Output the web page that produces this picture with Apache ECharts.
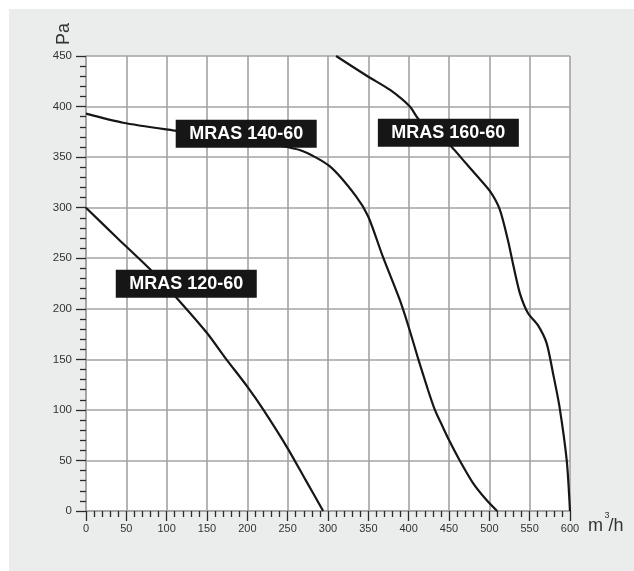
<!DOCTYPE html>
<html>
<head>
<meta charset="utf-8">
<script src="https://cdn.jsdelivr.net/npm/echarts@6/dist/echarts.min.js"></script>
<style>
html,body{margin:0;padding:0;background:#fff;}
#panel{position:absolute;left:9px;top:9px;width:625px;height:562px;background:#ebecec;}
#chart{position:absolute;left:0;top:0;width:634px;height:571px;}
</style>
</head>
<body>
<div id="panel"></div>
<div id="chart"></div>
<script>
// MRAS 120-60
var flow120 = [0, 40, 80, 116.5, 150, 174, 200, 220, 250, 272, 294];
var pres120 = [300, 269, 238.5, 207, 176, 150, 123, 100, 62, 31, 0];
// MRAS 140-60
var flow140 = [0, 46, 108, 160, 210, 265, 302, 335, 350, 368, 389, 400, 412, 424, 432.5, 441.5, 450, 463.3, 480, 496.5, 509.7];
var pres140 = [393, 384, 376.5, 371, 365, 357, 341, 311, 291, 251.5, 208.7, 182, 150, 119.7, 100, 84.5, 70.2, 50, 27.4, 10.9, 0];
// MRAS 160-60
var flow160 = [310, 350, 377, 401.5, 412, 432, 453, 467.6, 484, 501, 513, 523, 530, 538, 548, 560, 571, 579, 587, 596, 600];
var pres160 = [450, 429.5, 416.4, 400, 387.7, 374, 360.3, 347, 332, 316, 298, 268, 242, 215, 195.5, 184, 166, 136, 103, 49.5, 0];
// series labels: name, anchor flow, anchor pressure
var labelNames = ['MRAS 120-60', 'MRAS 140-60', 'MRAS 160-60'];
var labelFlow = [124.3, 198.6, 449.2];
var labelPres = [224.7, 373, 374];
// axes
var xMin = 0, xMax = 600, xStep = 50;
var yMin = 0, yMax = 450, yStep = 50;
var yName = 'Pa';

function pairs(xs, ys){ return xs.map(function(x,i){ return [x, ys[i]]; }); }

var FONT = '"Liberation Sans", Arial, sans-serif';
var chart = echarts.init(document.getElementById('chart'), null, {renderer:'canvas'});

var lineStyle = {color:'#161616', width:2.2};
function curve(name, xs, ys){
  return {type:'line', name:name, data:pairs(xs, ys), smooth:0.25, symbol:'none',
    lineStyle:lineStyle, z:2, silent:true, clip:true};
}

var axisCommon = {
  axisLine:{show:true, lineStyle:{color:'#a0a0a0', width:1.5}},
  axisTick:{show:true, inside:false, length:10, lineStyle:{color:'#2a2a2a', width:1.3}},
  minorTick:{show:true, splitNumber:5, length:6, lineStyle:{color:'#2a2a2a', width:1.3}},
  splitLine:{show:true, lineStyle:{color:'#a3a3a3', width:1.6}}
};

chart.setOption({
  animation:false,
  backgroundColor:'transparent',
  grid:{left:86, right:64, top:56, bottom:60, show:true, backgroundColor:'#fff', borderWidth:0},
  xAxis:Object.assign({type:'value', min:xMin, max:xMax, interval:xStep,
    axisLabel:{color:'#333', fontSize:11, fontFamily:FONT, margin:12}}, axisCommon),
  yAxis:Object.assign({type:'value', min:yMin, max:yMax, interval:yStep,
    axisLabel:{color:'#333', fontSize:11.5, fontFamily:FONT, margin:14}}, axisCommon),
  graphic:[
    {type:'text', x:64, y:34, rotation:Math.PI/2,
      style:{text:yName, font:'18px ' + FONT, fill:'#333', textAlign:'center', verticalAlign:'middle'}},
    {type:'text', x:588, y:526,
      style:{text:'m', font:'18px ' + FONT, fill:'#333', textAlign:'left', verticalAlign:'middle'}},
    {type:'text', x:604.5, y:516,
      style:{text:'3', font:'9px ' + FONT, fill:'#333', textAlign:'left', verticalAlign:'middle'}},
    {type:'text', x:608.5, y:526,
      style:{text:'/h', font:'18px ' + FONT, fill:'#333', textAlign:'left', verticalAlign:'middle'}}
  ],
  series:[
    curve(labelNames[0], flow120, pres120),
    curve(labelNames[1], flow140, pres140),
    curve(labelNames[2], flow160, pres160),
    {type:'scatter', z:10, symbolSize:1, itemStyle:{color:'rgba(0,0,0,0)', opacity:1}, silent:true,
      data:labelNames.map(function(n,i){ return {name:n, value:[labelFlow[i], labelPres[i]]}; }),
      label:{show:true, position:'inside', formatter:'{b}', color:'#fff', fontWeight:'bold', opacity:1,
        fontSize:18, fontFamily:FONT, backgroundColor:'#161616', width:141, height:28,
        lineHeight:28, align:'center', verticalAlign:'middle', padding:0}
    }
  ]
});
</script>
</body>
</html>
